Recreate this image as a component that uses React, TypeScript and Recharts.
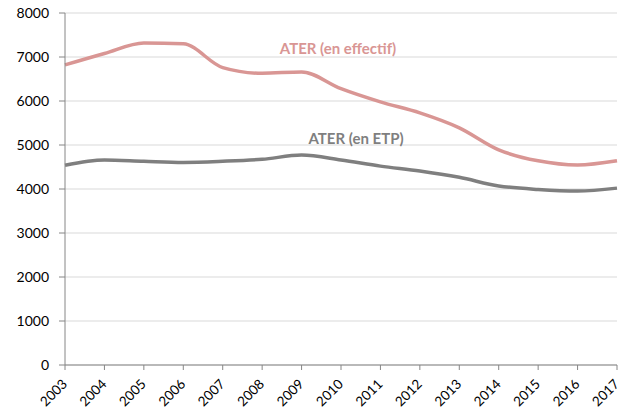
import { CartesianGrid, Line, LineChart, ReferenceDot, XAxis, YAxis } from 'recharts'

const years = ['2003', '2004', '2005', '2006', '2007', '2008', '2009', '2010', '2011', '2012', '2013', '2014', '2015', '2016', '2017']
const effectif = [6820, 7080, 7320, 7300, 6760, 6630, 6660, 6280, 5980, 5730, 5390, 4890, 4640, 4545, 4640]
const etp = [4540, 4660, 4630, 4605, 4630, 4675, 4770, 4660, 4520, 4410, 4265, 4070, 3990, 3955, 4020]
const yTicks = [0, 1000, 2000, 3000, 4000, 5000, 6000, 7000, 8000]

const data = years.map((y, i) => ({ year: y, effectif: effectif[i], etp: etp[i] }))

const FONT = 'Lato, "Open Sans", sans-serif'
const PINK = '#D99694'
const GREY = '#7F7F7F'

function YearTick({ x, y, payload }: any) {
  const ax = x + 3
  const ay = y + 13
  return (
    <text
      x={ax}
      y={ay}
      transform={`rotate(-45, ${ax}, ${ay})`}
      textAnchor="end"
      fontFamily={FONT}
      fontSize={13.5}
      fill="#000"
    >
      {payload.value}
    </text>
  )
}

function seriesLabel(text: string, color: string, dx: number) {
  return (props: any) => {
    const vb = props.viewBox || {}
    return (
      <text
        x={vb.x + dx}
        y={vb.y}
        textAnchor="middle"
        dominantBaseline="central"
        fontFamily={FONT}
        fontWeight="bold"
        fontSize={15}
        fill={color}
      >
        {text}
      </text>
    )
  }
}

export default function App() {
  return (
    <div style={{ position: 'absolute', left: 0, top: 0, width: 629, height: 409, background: '#fff' }}>
      <LineChart width={629} height={409} data={data} margin={{ top: 13, right: 12, bottom: 0, left: 0 }}>
        <CartesianGrid vertical={false} stroke="#D9D9D9" strokeWidth={1} />
        <XAxis
          dataKey="year"
          height={44}
          interval={0}
          stroke="#868686"
          tickSize={5}
          tick={<YearTick />}
        />
        <YAxis
          width={65}
          domain={[0, 8000]}
          ticks={yTicks}
          interval={0}
          stroke="#868686"
          tickSize={6}
          tickMargin={10}
          tick={{ fill: '#000', fontSize: 14, fontFamily: FONT }}
        />
        <Line
          type="monotone"
          dataKey="effectif"
          stroke={PINK}
          strokeWidth={3.5}
          dot={false}
          isAnimationActive={false}
        />
        <Line
          type="monotone"
          dataKey="etp"
          stroke={GREY}
          strokeWidth={3.5}
          dot={false}
          isAnimationActive={false}
        />
        <ReferenceDot x="2010" y={7200} r={0} stroke="none" fill="none" label={seriesLabel('ATER (en effectif)', PINK, -3)} />
        <ReferenceDot x="2010" y={5160} r={0} stroke="none" fill="none" label={seriesLabel('ATER (en ETP)', GREY, 15)} />
      </LineChart>
    </div>
  )
}
